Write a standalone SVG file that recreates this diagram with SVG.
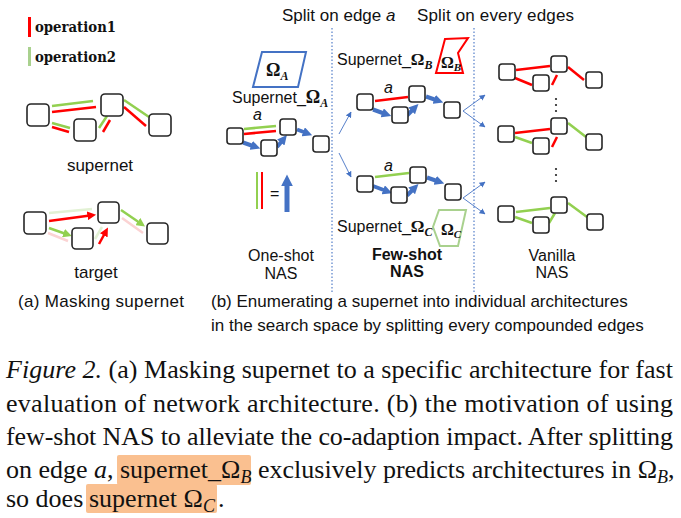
<svg xmlns="http://www.w3.org/2000/svg" width="681" height="518" viewBox="0 0 681 518">
<style>
.bx{fill:#fff;stroke:#262626;stroke-width:1.6}
.t{font-family:"Liberation Sans",Arial,sans-serif;fill:#111}
.s{font-family:"Liberation Serif","Times New Roman",serif;fill:#111}
.om{font-family:"Liberation Serif","Times New Roman",serif;font-weight:bold;fill:#111}
.r{stroke:#ff0000;stroke-width:2.5;fill:none}
.g{stroke:#92d050;stroke-width:2.5;fill:none}
.fr{stroke:#fbd3d3;stroke-width:2.5;fill:none}
.fg{stroke:#e2f1d4;stroke-width:2.5;fill:none}
.ba{stroke:#4472c4;stroke-width:4;fill:none;marker-end:url(#mb)}
.ta{stroke:#4472c4;stroke-width:0.9;fill:none;marker-end:url(#mt)}
.dl{stroke:#4472c4;stroke-width:1.1;stroke-dasharray:1.5 2;fill:none}
</style>
<defs>
<marker id="mb" viewBox="0 0 10 10" refX="2" refY="5" markerWidth="2.4" markerHeight="2.4" orient="auto"><path d="M0,0L10,5L0,10z" fill="#4472c4"/></marker>
<marker id="mr" viewBox="0 0 10 10" refX="3" refY="5" markerWidth="3.5" markerHeight="3.5" orient="auto"><path d="M0,0L10,5L0,10z" fill="#ff0000"/></marker>
<marker id="mg" viewBox="0 0 10 10" refX="3" refY="5" markerWidth="3.5" markerHeight="3.5" orient="auto"><path d="M0,0L10,5L0,10z" fill="#92d050"/></marker>
<marker id="mt" viewBox="0 0 10 10" refX="9" refY="5" markerWidth="6" markerHeight="6" markerUnits="userSpaceOnUse" orient="auto"><path d="M0,0L10,5L0,10z" fill="#4472c4"/></marker>
</defs>

<!-- legend -->
<g id="legend">
<line x1="29.5" y1="17" x2="29.5" y2="37" stroke="#ff0000" stroke-width="3"/>
<text x="35" y="32" font-family="'DejaVu Serif',serif" font-weight="bold" font-size="15" textLength="81" lengthAdjust="spacingAndGlyphs" fill="#111">operation1</text>
<line x1="29.5" y1="47" x2="29.5" y2="66" stroke="#a9d18e" stroke-width="3"/>
<text x="35" y="62" font-family="'DejaVu Serif',serif" font-weight="bold" font-size="15" textLength="81" lengthAdjust="spacingAndGlyphs" fill="#111">operation2</text>
</g>

<g id="connectors">
<!-- supernet -->
<line class="g" x1="52" y1="106" x2="93" y2="101"/>
<line class="r" x1="52" y1="112" x2="96" y2="107"/>
<line class="g" x1="52" y1="123" x2="70" y2="128"/>
<line class="r" x1="52" y1="127" x2="69" y2="132"/>
<line class="g" x1="99" y1="128" x2="107" y2="116"/>
<line class="r" x1="103" y1="132" x2="110" y2="120"/>
<line class="g" x1="124" y1="100" x2="149" y2="117"/>
<line class="r" x1="124" y1="107" x2="146" y2="126"/>
<!-- target -->
<line class="fg" x1="49" y1="213" x2="92" y2="209"/>
<line class="r" x1="49" y1="221" x2="90" y2="215.5" marker-end="url(#mr)"/>
<line class="g" x1="49" y1="228" x2="66" y2="234" marker-end="url(#mg)"/>
<line class="fr" x1="48" y1="233" x2="68" y2="241"/>
<line class="fg" x1="95" y1="239" x2="102" y2="227"/>
<line class="r" x1="99" y1="244" x2="105" y2="233" marker-end="url(#mr)"/>
<line class="g" x1="121" y1="210" x2="140" y2="223" marker-end="url(#mg)"/>
<line class="fr" x1="122" y1="218" x2="143" y2="233"/>
<!-- one-shot -->
<line class="g" x1="244" y1="129" x2="276" y2="126"/>
<line class="r" x1="244" y1="134" x2="276" y2="131"/>
<line class="ba" x1="243" y1="142.5" x2="253" y2="146"/>
<line class="ba" x1="277" y1="147" x2="282" y2="141"/>
<line class="ba" x1="297" y1="129.5" x2="305" y2="132.5"/>
<line x1="257" y1="172" x2="257" y2="209" stroke="#92d050" stroke-width="2"/>
<line x1="262" y1="172" x2="262" y2="209" stroke="#ff0000" stroke-width="2"/>
<line x1="287" y1="212" x2="287" y2="184" stroke="#4472c4" stroke-width="5" marker-end="url(#mb)"/>
<!-- few-shot B -->
<line class="r" x1="375" y1="101" x2="408" y2="97"/>
<line class="ba" x1="373" y1="109.5" x2="384" y2="113.5"/>
<line class="ba" x1="407" y1="115.5" x2="413" y2="109.5"/>
<line class="ba" x1="426" y1="96.5" x2="436" y2="100"/>
<!-- few-shot C -->
<line class="g" x1="375" y1="177" x2="409" y2="173"/>
<line class="ba" x1="373" y1="186" x2="385" y2="190.5"/>
<line class="ba" x1="407" y1="195.5" x2="413" y2="189.5"/>
<line class="ba" x1="427" y1="177.5" x2="437" y2="181"/>
<!-- thin arrows -->
<line class="ta" x1="339" y1="134" x2="351" y2="112"/>
<line class="ta" x1="339" y1="153" x2="351" y2="177"/>
<line class="ta" x1="463" y1="111" x2="485" y2="95"/>
<line class="ta" x1="463" y1="111" x2="485" y2="127"/>
<line class="ta" x1="463" y1="198" x2="485" y2="182"/>
<line class="ta" x1="463" y1="198" x2="485" y2="214"/>
<!-- vanilla 1 -->
<line class="r" x1="516" y1="70" x2="550" y2="66"/>
<line class="r" x1="515" y1="78" x2="532" y2="85"/>
<line class="r" x1="552" y1="85" x2="557" y2="75"/>
<line class="r" x1="568" y1="67" x2="584" y2="80"/>
<!-- vanilla 2 -->
<line class="r" x1="515" y1="133" x2="550" y2="129"/>
<line class="g" x1="515" y1="137" x2="532" y2="143"/>
<line class="r" x1="552" y1="147" x2="557" y2="137"/>
<line class="g" x1="568" y1="123" x2="586" y2="137"/>
<!-- vanilla 3 -->
<line class="g" x1="516" y1="212" x2="550" y2="208" stroke="#b5dc93"/>
<line class="g" x1="515" y1="217" x2="532" y2="223"/>
<line class="g" x1="549" y1="223" x2="555" y2="213"/>
<line class="g" x1="568" y1="203" x2="587" y2="217"/>
<!-- dotted dividers -->
<line class="dl" x1="332" y1="28" x2="332" y2="292"/>
<line class="dl" x1="474" y1="28" x2="474" y2="292"/>
</g>

<!-- supernet nodes -->
<g id="sn1"><rect class="bx" x="27" y="104" width="22" height="22" rx="4"/></g>
<g id="sn2"><rect class="bx" x="74" y="119" width="22" height="22" rx="4"/></g>
<g id="sn3"><rect class="bx" x="101" y="94" width="22" height="22" rx="4"/></g>
<g id="sn4"><rect class="bx" x="149" y="114" width="22" height="22" rx="4"/></g>
<text class="t" x="100" y="171" font-size="17" text-anchor="middle">supernet</text>

<!-- target nodes -->
<g id="tg1"><rect class="bx" x="24" y="212" width="22" height="22" rx="4"/></g>
<g id="tg2"><rect class="bx" x="72" y="228" width="21" height="21" rx="4"/></g>
<g id="tg3"><rect class="bx" x="98" y="202" width="21" height="21" rx="4"/></g>
<g id="tg4"><rect class="bx" x="147" y="223" width="21" height="21" rx="4"/></g>
<text class="t" x="96" y="278" font-size="17" text-anchor="middle">target</text>
<text class="t" x="18" y="307" font-size="17" textLength="166">(a) Masking supernet</text>

<!-- headings -->
<text class="t" x="282" y="21" font-size="17">Split on edge <tspan font-style="italic">a</tspan></text>
<text class="t" x="417" y="21" font-size="17" textLength="157">Split on every edges</text>

<!-- one-shot -->
<g id="omegaA">
<polygon points="262,52 306,52 298,87 253,87" fill="none" stroke="#4472c4" stroke-width="2"/>
<text class="om" x="266" y="76" font-size="18">Ω<tspan font-style="italic" font-size="12" dy="4">A</tspan></text>
</g>
<text class="t" x="232" y="103" font-size="16">Supernet_<tspan class="om" font-size="18">Ω</tspan><tspan class="om" font-style="italic" font-size="12" dy="4">A</tspan></text>
<text class="t" x="253" y="120" font-size="16" font-style="italic">a</text>
<g id="os1"><rect class="bx" x="227" y="128" width="16" height="16" rx="3"/></g>
<g id="os2"><rect class="bx" x="261" y="140" width="16" height="16" rx="3"/></g>
<g id="os3"><rect class="bx" x="280" y="119" width="16" height="16" rx="3"/></g>
<g id="os4"><rect class="bx" x="313" y="136" width="16" height="16" rx="3"/></g>
<text class="t" x="270" y="199" font-size="16">=</text>
<text class="t" x="281" y="261" font-size="16" text-anchor="middle">One-shot</text>
<text class="t" x="281" y="279" font-size="16" text-anchor="middle">NAS</text>

<!-- few-shot B -->
<text class="t" x="337" y="65" font-size="16">Supernet_<tspan class="om" font-size="17">Ω</tspan><tspan class="om" font-style="italic" font-size="12" dy="4">B</tspan></text>
<g id="omegaB">
<polygon points="445,39 468,38 458,53 463,73 436,73" fill="none" stroke="#ff0000" stroke-width="2"/>
<text class="om" x="441" y="68" font-size="16">Ω<tspan font-style="italic" font-size="11" dy="3">B</tspan></text>
</g>
<text class="t" x="384" y="93" font-size="16" font-style="italic">a</text>
<g id="fb1"><rect class="bx" x="357" y="94" width="16" height="16" rx="3"/></g>
<g id="fb2"><rect class="bx" x="392" y="107" width="16" height="16" rx="3"/></g>
<g id="fb3"><rect class="bx" x="409" y="86" width="16" height="16" rx="3"/></g>
<g id="fb4"><rect class="bx" x="444" y="102" width="16" height="16" rx="3"/></g>

<!-- few-shot C -->
<text class="t" x="384" y="171" font-size="16" font-style="italic">a</text>
<g id="fc1"><rect class="bx" x="357" y="176" width="16" height="16" rx="3"/></g>
<g id="fc2"><rect class="bx" x="391" y="187" width="16" height="16" rx="3"/></g>
<g id="fc3"><rect class="bx" x="410" y="167" width="16" height="16" rx="3"/></g>
<g id="fc4"><rect class="bx" x="445" y="184" width="16" height="16" rx="3"/></g>
<text class="t" x="337" y="232" font-size="16">Supernet_<tspan class="om" font-size="17">Ω</tspan><tspan class="om" font-style="italic" font-size="12" dy="4">C</tspan></text>
<g id="omegaC">
<polygon points="439,210 466,210 458,246 440,246 433,227" fill="none" stroke="#a9d18e" stroke-width="2"/>
<text class="om" x="441" y="235" font-size="16">Ω<tspan font-style="italic" font-size="11" dy="3">C</tspan></text>
</g>
<text class="t" x="407" y="260" font-size="16" font-weight="bold" text-anchor="middle">Few-shot</text>
<text class="t" x="407" y="277" font-size="16" font-weight="bold" text-anchor="middle">NAS</text>

<!-- vanilla -->
<g id="va1"><rect class="bx" x="499" y="64" width="16" height="16" rx="3"/></g>
<g id="va2"><rect class="bx" x="533" y="75" width="16" height="16" rx="3"/></g>
<g id="va3"><rect class="bx" x="551" y="56" width="16" height="16" rx="3"/></g>
<g id="va4"><rect class="bx" x="586" y="72" width="16" height="16" rx="3"/></g>
<g id="vb1"><rect class="bx" x="498" y="126" width="16" height="16" rx="3"/></g>
<g id="vb2"><rect class="bx" x="533" y="138" width="16" height="16" rx="3"/></g>
<g id="vb3"><rect class="bx" x="551" y="118" width="16" height="16" rx="3"/></g>
<g id="vb4"><rect class="bx" x="586" y="134" width="16" height="16" rx="3"/></g>
<g id="vc1"><rect class="bx" x="498" y="206" width="16" height="16" rx="3"/></g>
<g id="vc2"><rect class="bx" x="533" y="217" width="16" height="16" rx="3"/></g>
<g id="vc3"><rect class="bx" x="551" y="197" width="16" height="16" rx="3"/></g>
<g id="vc4"><rect class="bx" x="587" y="214" width="16" height="16" rx="3"/></g>
<g id="dots" fill="#222">
<circle cx="556" cy="99" r="1.1"/><circle cx="556" cy="105" r="1.1"/><circle cx="556" cy="111" r="1.1"/>
<circle cx="556" cy="169" r="1.1"/><circle cx="556" cy="175" r="1.1"/><circle cx="556" cy="181" r="1.1"/>
</g>
<text class="t" x="552" y="261" font-size="16" text-anchor="middle">Vanilla</text>
<text class="t" x="552" y="278" font-size="16" text-anchor="middle">NAS</text>

<text class="t" x="211" y="307" font-size="17">(b) Enumerating a supernet into individual architectures</text>
<text class="t" x="211" y="331" font-size="17">in the search space by splitting every compounded edges</text>

<!-- caption -->
<g id="caption">
<rect x="117" y="455" width="134" height="30" rx="2" fill="#fac090"/>
<rect x="86" y="484" width="131" height="29" rx="2" fill="#fac090"/>
<text class="s" x="6" y="378" font-size="26" textLength="667" lengthAdjust="spacing"><tspan font-style="italic">Figure 2.</tspan> (a) Masking supernet to a specific architecture for fast</text>
<text class="s" x="6" y="412" font-size="26" textLength="667" lengthAdjust="spacing">evaluation of network architecture.  (b) the motivation of using</text>
<text class="s" x="6" y="445" font-size="26" textLength="667" lengthAdjust="spacing">few-shot NAS to alleviate the co-adaption impact. After splitting</text>
<text class="s" x="6" y="478" font-size="26">on edge <tspan font-style="italic">a</tspan>,</text>
<text class="s" x="120" y="478" font-size="26">supernet_Ω<tspan font-style="italic" font-size="18" dy="5">B</tspan></text>
<text class="s" x="258" y="478" font-size="26">exclusively predicts architectures in Ω<tspan font-style="italic" font-size="18" dy="5">B</tspan><tspan dy="-5">,</tspan></text>
<text class="s" x="6" y="507" font-size="26">so does</text>
<text class="s" x="89" y="507" font-size="26">supernet Ω<tspan font-style="italic" font-size="18" dy="5">C</tspan></text>
<text class="s" x="218" y="507" font-size="26">.</text>
</g>
</svg>
